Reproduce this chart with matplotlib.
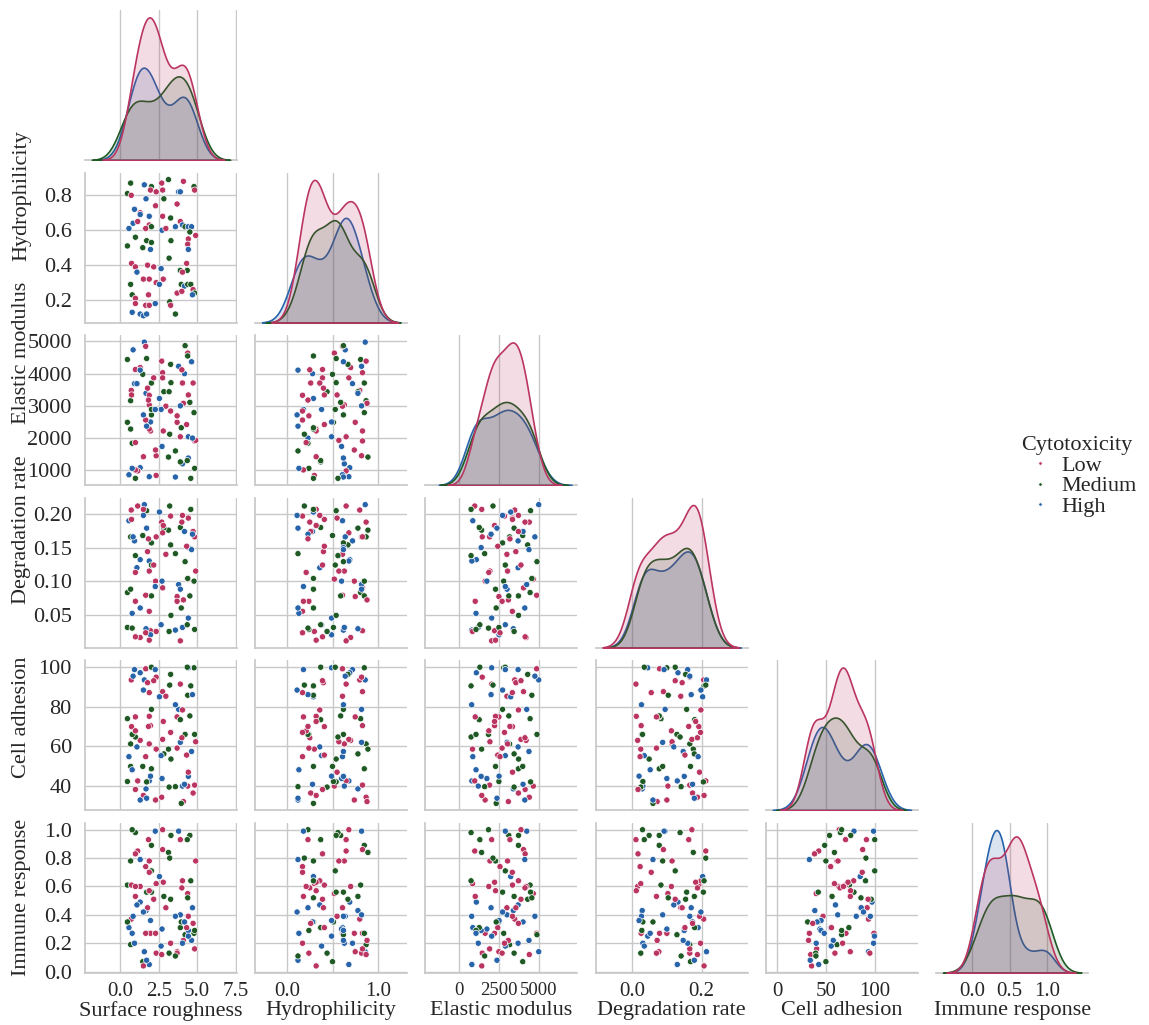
import matplotlib
matplotlib.use("Agg")
import matplotlib.pyplot as plt
import pandas as pd
import seaborn as sns

# values (one entry per sample)
surface_roughness = [
    0.67, 0.46, 0.71, 1.56, 2.02, 1.96, 2.33, 2.69, 2.75, 3.13,
    2.83, 1.67, 4.10, 3.79, 3.90, 4.79, 4.83, 2.29, 3.69, 0.92,
    1.29, 1.29, 1.88, 2.75, 3.27, 0.83, 1.13, 0.56, 1.88, 2.02,
    1.65, 2.71, 2.96, 3.58, 3.90, 4.04, 4.21, 4.42, 4.63, 4.52,
    4.90, 4.42, 4.38, 4.42, 0.98, 1.71, 2.02, 0.46, 1.46, 1.96,
    3.29, 3.17, 0.73, 0.98, 1.08, 1.77, 2.17, 2.65, 3.90, 4.31,
    4.35, 4.04, 1.50, 1.88, 2.33, 2.54, 2.79, 0.67, 3.96, 4.17,
    4.38, 4.58, 4.73, 4.83, 4.69, 3.69, 4.00, 0.77, 0.98, 0.98,
    1.65, 1.88, 2.27, 1.83, 3.21, 3.27, 0.77, 1.29, 1.50, 1.71,
    3.58]
hydrophilicity = [
    0.87, 0.81, 0.80, 0.86, 0.85, 0.83, 0.82, 0.87, 0.83, 0.89,
    0.78, 0.78, 0.88, 0.82, 0.82, 0.85, 0.83, 0.74, 0.75, 0.72,
    0.70, 0.69, 0.68, 0.68, 0.67, 0.64, 0.65, 0.61, 0.63, 0.62,
    0.61, 0.60, 0.61, 0.62, 0.65, 0.63, 0.62, 0.62, 0.62, 0.59,
    0.57, 0.55, 0.52, 0.49, 0.56, 0.54, 0.53, 0.51, 0.50, 0.49,
    0.54, 0.44, 0.41, 0.39, 0.36, 0.40, 0.39, 0.38, 0.37, 0.41,
    0.37, 0.36, 0.32, 0.32, 0.30, 0.29, 0.32, 0.29, 0.29, 0.28,
    0.29, 0.29, 0.26, 0.24, 0.23, 0.24, 0.25, 0.23, 0.21, 0.18,
    0.17, 0.17, 0.18, 0.23, 0.19, 0.17, 0.13, 0.12, 0.11, 0.12,
    0.12]
elastic_modulus = [
    3160, 4440, 3480, 4980, 3710, 2220, 1450, 4390, 4030, 1410,
    3440, 3390, 3080, 4230, 3000, 2790, 1910, 1630, 2490, 3690,
    4190, 1080, 800, 3870, 4290, 4740, 980, 860, 3030, 2720,
    4850, 1740, 2990, 790, 2040, 1200, 4870, 1380, 4370, 3110,
    1930, 3340, 4640, 2040, 750, 4470, 2890, 2490, 3980, 2500,
    3720, 3440, 3340, 4130, 3690, 3550, 3870, 2890, 1260, 2420,
    1300, 3710, 1420, 2280, 840, 3230, 2220, 2280, 2320, 4000,
    4550, 750, 3710, 1060, 2000, 2690, 4120, 1840, 1860, 1010,
    2560, 3330, 2890, 3180, 2120, 2840, 1060, 4110, 2720, 2370,
    1600]
degradation_rate = [
    0.166, 0.083, 0.206, 0.214, 0.078, 0.026, 0.166, 0.188, 0.090, 0.176,
    0.179, 0.029, 0.072, 0.095, 0.088, 0.100, 0.166, 0.100, 0.077, 0.160,
    0.016, 0.132, 0.130, 0.172, 0.154, 0.166, 0.212, 0.190, 0.115, 0.157,
    0.079, 0.100, 0.140, 0.027, 0.011, 0.031, 0.129, 0.150, 0.147, 0.078,
    0.115, 0.194, 0.103, 0.045, 0.138, 0.205, 0.124, 0.031, 0.168, 0.020,
    0.049, 0.025, 0.192, 0.017, 0.120, 0.144, 0.124, 0.035, 0.180, 0.152,
    0.035, 0.198, 0.207, 0.012, 0.025, 0.203, 0.183, 0.088, 0.060, 0.174,
    0.104, 0.207, 0.174, 0.028, 0.170, 0.070, 0.188, 0.030, 0.113, 0.070,
    0.023, 0.055, 0.092, 0.163, 0.212, 0.197, 0.052, 0.060, 0.198, 0.179,
    0.141]
cell_adhesion = [
    61.2, 73.9, 93.4, 93.4, 48.7, 70.4, 94.8, 34.4, 87.5, 58.6,
    56.2, 38.6, 32.2, 78.6, 62.0, 99.5, 40.5, 33.0, 74.8, 98.6,
    63.0, 97.0, 42.6, 63.5, 96.2, 95.3, 42.6, 54.8, 61.2, 78.6,
    99.0, 43.8, 85.2, 80.9, 91.3, 40.0, 66.0, 44.9, 57.4, 75.3,
    62.3, 47.0, 40.0, 99.5, 64.7, 42.1, 99.8, 42.3, 49.9, 45.0,
    53.6, 39.5, 69.9, 38.3, 59.7, 92.0, 93.0, 55.3, 73.4, 55.6,
    99.8, 78.3, 35.3, 75.1, 58.6, 84.9, 72.5, 49.9, 31.3, 40.9,
    85.7, 90.4, 36.5, 66.0, 86.0, 59.1, 64.3, 66.0, 67.8, 74.8,
    54.8, 87.0, 98.6, 70.0, 90.8, 67.0, 48.2, 33.0, 88.3, 33.9,
    39.7]
immune_response = [
    0.19, 0.61, 0.37, 0.14, 0.89, 0.27, 0.13, 0.12, 0.86, 0.84,
    0.53, 0.43, 0.22, 0.99, 0.40, 0.27, 0.16, 0.27, 0.14, 0.20,
    0.60, 0.49, 0.05, 1.00, 0.51, 0.39, 0.85, 0.31, 0.78, 0.56,
    0.27, 0.30, 0.45, 0.39, 0.93, 0.20, 0.26, 0.29, 0.22, 0.96,
    0.78, 0.39, 0.55, 0.25, 0.98, 0.56, 0.71, 0.35, 0.07, 0.36,
    0.96, 0.13, 0.61, 0.83, 0.47, 0.45, 0.51, 0.18, 0.31, 0.31,
    0.93, 0.64, 0.04, 0.57, 0.62, 0.67, 0.63, 0.78, 0.35, 0.35,
    0.52, 0.64, 0.34, 0.29, 0.45, 0.13, 0.59, 1.00, 0.60, 0.53,
    0.74, 0.70, 0.99, 0.93, 0.80, 0.20, 0.27, 0.79, 0.42, 0.08,
    0.11]
# L = Low, M = Medium, H = High
cytotoxicity_codes = (
    "M M L H M L L L L M "
    "M H L H H M L L L H "
    "L H H L M H L H L M "
    "L H L H L H M H H M "
    "L L L H M M M M M H "
    "M M L L H L L H M L "
    "M L L L L H L M M H "
    "M M L M H L L M L L "
    "L L H L M L H H H H "
    "M").split()

level_names = {"L": "Low", "M": "Medium", "H": "High"}
hue_order = ["Low", "Medium", "High"]
palette = {"Low": "#bb3561", "Medium": "#1f5a24", "High": "#2864aa"}

columns = ["Surface roughness", "Hydrophilicity", "Elastic modulus",
           "Degradation rate", "Cell adhesion", "Immune response"]
# tick positions on each variable's axis
x_ticks = [[0.0, 2.5, 5.0, 7.5], [0.0, 0.5, 1.0], [0, 2500, 5000],
           [0.0, 0.2], [0, 50, 100], [0.0, 0.5, 1.0]]
x_labels = [["0.0", "2.5", "5.0", "7.5"], ["0.0", "", "1.0"], ["0", "2500", "5000"],
            ["0.0", "0.2"], ["0", "50", "100"], ["0.0", "0.5", "1.0"]]
y_ticks = [None, [0.2, 0.4, 0.6, 0.8], [1000, 2000, 3000, 4000, 5000],
           [0.05, 0.10, 0.15, 0.20], [40, 60, 80, 100],
           [0.0, 0.2, 0.4, 0.6, 0.8, 1.0]]
y_labels = [None, ["0.2", "0.4", "0.6", "0.8"],
            ["1000", "2000", "3000", "4000", "5000"],
            ["0.05", "0.10", "0.15", "0.20"], ["40", "60", "80", "100"],
            ["0.0", "0.2", "0.4", "0.6", "0.8", "1.0"]]
# vertical placement of the row labels (axes fraction), as in the reference
ylabel_pos = [None, 0.85, 0.88, 0.79, 0.62, 0.50]

df = pd.DataFrame({
    columns[0]: surface_roughness,
    columns[1]: hydrophilicity,
    columns[2]: elastic_modulus,
    columns[3]: degradation_rate,
    columns[4]: cell_adhesion,
    columns[5]: immune_response,
    "Cytotoxicity": [level_names[c] for c in cytotoxicity_codes],
})

sns.set_theme(style="whitegrid")
plt.rcParams["font.family"] = ["Liberation Serif", "DejaVu Serif"]
plt.rcParams.update({
    "axes.labelsize": 16,
    "xtick.labelsize": 15,
    "ytick.labelsize": 16,
    "legend.fontsize": 16,
    "legend.title_fontsize": 16,
    "grid.color": "#c8c8c8",
    "axes.edgecolor": "#c8c8c8",
})

g = sns.pairplot(df, hue="Cytotoxicity", hue_order=hue_order, palette=palette,
                 corner=True, diag_kind="kde", height=1.6,
                 plot_kws={"s": 20, "edgecolor": "white", "linewidth": 0.5},
                 diag_kws={"linewidth": 1.2, "alpha": 0.17})

g.figure.set_size_inches(11.49, 10.25)
g.figure.subplots_adjust(left=0.074, right=0.947, top=0.99, bottom=0.051,
                         wspace=0.12, hspace=0.085)

for i in range(6):
    for j in range(i + 1):
        ax = g.axes[i, j]
        ax.set_xticks(x_ticks[j], x_labels[j])
        ax.tick_params(axis="x", pad=1)
        if i > 0 and j < i:
            ax.set_yticks(y_ticks[i], y_labels[i])
    if i > 0:
        g.axes[i, 0].yaxis.set_label_coords(-0.355, ylabel_pos[i])
for j in range(6):
    g.axes[5, j].xaxis.labelpad = 0

# elastic modulus column is a bit wider in the reference
g.axes[5, 2].set_xlim(-2100, 7400)
g.axes[5, 2].tick_params(axis="x", labelsize=13.5)
g.figure.align_xlabels(list(g.axes[5, :]))

sns.move_legend(g, "center left", bbox_to_anchor=(0.868, 0.535), frameon=False,
                title="Cytotoxicity", markerscale=0.55, handletextpad=0.0,
                labelspacing=0.0)

g.figure.savefig("out.png", dpi=100)
